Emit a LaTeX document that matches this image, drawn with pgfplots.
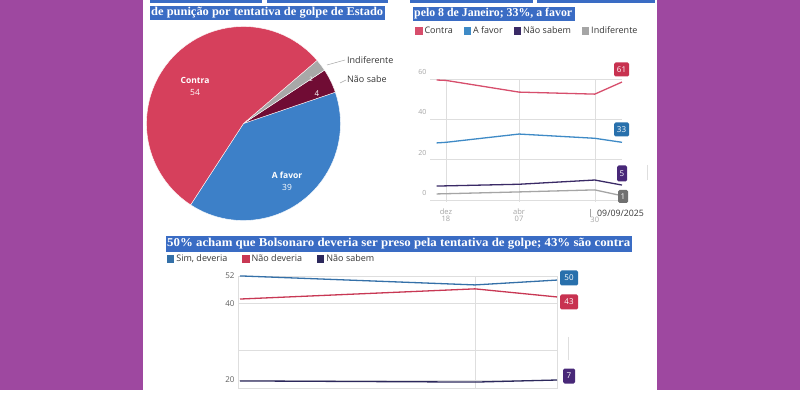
\documentclass[border=0pt]{standalone}
\usepackage{pgfplots}
\pgfplotsset{compat=1.18}
\usepackage{pgfplotstable}
\usepackage{fontspec}
\setmainfont{Open Sans}
\newfontfamily\titlefont{Liberation Serif}
\newcommand{\fs}[1]{\fontsize{#1}{#1}\selectfont}
\definecolor{bgpurple}{RGB}{158,72,160}
\definecolor{hlblue}{RGB}{58,108,196}
\definecolor{piered}{RGB}{214,64,92}
\definecolor{pieblue}{RGB}{61,128,200}
\definecolor{piemaroon}{RGB}{112,12,52}
\definecolor{piegray}{RGB}{168,168,168}
\definecolor{lred}{RGB}{215,78,108}
\definecolor{lblue}{RGB}{62,138,198}
\definecolor{lpurple}{RGB}{58,42,102}
\definecolor{lgray}{RGB}{165,165,165}
\definecolor{bred}{RGB}{200,56,84}
\definecolor{bblue}{RGB}{52,112,168}
\definecolor{bpurple}{RGB}{44,40,92}
\definecolor{boxred}{RGB}{200,50,80}
\definecolor{boxblue}{RGB}{40,112,172}
\definecolor{boxpurple}{RGB}{72,40,120}
\definecolor{boxgray}{RGB}{112,112,112}
\definecolor{gridc}{RGB}{222,222,222}
\definecolor{tickc}{RGB}{165,165,165}
\definecolor{txt}{RGB}{55,55,55}
\pgfplotsset{/pgf/number format/assume math mode=true}

\pgfplotstableread{
day contra afavor naosabem indif
-14 59.5 28.3 6.9 3.0
0   59.3 28.6 7.0 3.1
110 53.5 32.7 7.8 4.0
224 52.5 30.6 9.9 5.0
265 58.5 28.6 7.4 2.1
}\topdata

\pgfplotstableread{
x sim nao naosabem
0   52.0 42.0 6.6
235 48.1 46.4 6.1
317 50.2 42.9 7.0
}\botdata

\begin{document}
\begin{tikzpicture}[x=1pt,y=1pt]
\fill[bgpurple] (0,0) rectangle (800,390);
\fill[white] (143,0) rectangle (657,390);
% cut-off highlighted lines at top
\fill[hlblue] (150,387) rectangle (262,390);
\fill[hlblue] (267,387) rectangle (388,390);
\fill[hlblue] (410,387) rectangle (533,390);
\fill[hlblue] (537,387) rectangle (655,390);
% titles
\fill[hlblue] (150,370) rectangle (385,384);
\node[anchor=west, text=white, font=\titlefont\bfseries\fs{12}, inner sep=0pt] at (151,377) {\resizebox{232pt}{\height}{de punição por tentativa de golpe de Estado}};
\fill[hlblue] (413,369) rectangle (575,383);
\node[anchor=west, text=white, font=\titlefont\bfseries\fs{12}, inner sep=0pt] at (414,376) {\resizebox{158pt}{\height}{pelo 8 de Janeiro; 33\%, a favor}};
\fill[hlblue] (166,138) rectangle (632,154);
\node[anchor=west, text=white, font=\titlefont\bfseries\fs{12}, inner sep=0pt] at (167,146) {\resizebox{463pt}{\height}{50\% acham que Bolsonaro deveria ser preso pela tentativa de golpe; 43\% são contra}};

% ---------- pie ----------
\pgfmathsetmacro{\aA}{237}
\pgfmathsetmacro{\aB}{\aA+39/99*360}
\pgfmathsetmacro{\aC}{\aB+4/99*360}
\pgfmathsetmacro{\aD}{\aC+2/99*360}
\pgfmathsetmacro{\aE}{\aD+54/99*360}
\begin{axis}[at={(146.5pt,169.5pt)}, anchor=south west, scale only axis,
  width=194pt, height=194pt, xmin=-1, xmax=1, ymin=-1, ymax=1, hide axis, clip=false]
\fill[pieblue, draw=white, line width=0.4pt] (axis cs:0,0) -- ++(\aA:97pt) arc[start angle=\aA, end angle=\aB, radius=97pt] -- cycle;
\fill[piemaroon, draw=white, line width=0.4pt] (axis cs:0,0) -- ++(\aB:97pt) arc[start angle=\aB, end angle=\aC, radius=97pt] -- cycle;
\fill[piegray, draw=white, line width=0.4pt] (axis cs:0,0) -- ++(\aC:97pt) arc[start angle=\aC, end angle=\aD, radius=97pt] -- cycle;
\fill[piered, draw=white, line width=0.4pt] (axis cs:0,0) -- ++(\aD:97pt) arc[start angle=\aD, end angle=\aE, radius=97pt] -- cycle;
\end{axis}
\node[text=white, font=\bfseries\fs{8.5}] at (195,310) {Contra};
\node[text=white, font=\fs{8.5}] at (195,298) {54};
\node[text=white, font=\bfseries\fs{8.5}] at (287,215) {A favor};
\node[text=white, font=\fs{8.5}] at (287,203) {39};
\node[text=white, font=\fs{8}] at (317,296) {4};
\node[text=white, font=\fs{6}] at (311,311) {2};
\draw[gray!70, line width=0.5pt] (327,325) -- (345,330);
\node[anchor=west, text=txt, font=\fs{9}, inner sep=1pt] at (346,330) {Indiferente};
\draw[gray!70, line width=0.5pt] (340,307) -- (346,310);
\node[anchor=west, text=txt, font=\fs{9}, inner sep=1pt] at (346,311) {Não sabe};

% ---------- top-right line chart ----------
\begin{axis}[at={(430pt,188pt)}, anchor=south west, scale only axis,
  width=192pt, height=123pt, xmin=-24, xmax=265, ymin=-1, ymax=60,
  axis line style={draw=none}, tick style={draw=none},
  xtick={0,110,224}, xticklabels={{dez\\18},{abr\\07},{\strut\\30}},
  xticklabel style={align=center, font=\fs{7.5}, text=tickc, yshift=-3pt},
  ytick={0,20,40,60},
  yticklabel style={font=\fs{7}, text=tickc, yshift=7pt},
  grid=major, grid style={gridc, line width=0.5pt},
  clip=false,
  legend style={at={(-0.078,1.39)}, anchor=west, draw=none, fill=none,
    legend columns=4, font=\fs{9}, text=txt, inner sep=0pt,
    /tikz/every even column/.append style={column sep=9pt}},
  legend image code/.code={\fill (0pt,-3pt) rectangle (6pt,3pt);},
]
\addplot[color=lred, line width=1.3pt] table[x=day, y=contra] {\topdata};
\addlegendentry{Contra}
\addplot[color=lblue, line width=1.3pt] table[x=day, y=afavor] {\topdata};
\addlegendentry{A favor}
\addplot[color=lpurple, line width=1.3pt] table[x=day, y=naosabem] {\topdata};
\addlegendentry{Não sabem}
\addplot[color=lgray, line width=1.3pt] table[x=day, y=indif] {\topdata};
\addlegendentry{Indiferente}
\end{axis}
\draw[tickc, line width=0.6pt] (590,181) -- (590,173);
\node[text=txt, font=\fs{8.8}, inner sep=1pt, anchor=west] at (596,177) {09/09/2025};
\node[fill=boxred, text=white, font=\fs{8}, rounded corners=1.5pt, minimum width=15pt, minimum height=14pt, inner sep=0pt] at (621.5,320.5) {61};
\node[fill=boxblue, text=white, font=\fs{8}, rounded corners=1.5pt, minimum width=15pt, minimum height=14pt, inner sep=0pt] at (621.5,260.5) {33};
\node[fill=boxpurple, text=white, font=\fs{8}, rounded corners=1.5pt, minimum width=10pt, minimum height=16pt, inner sep=0pt] at (622,216.5) {5};
\node[fill=boxgray, text=white, font=\fs{8}, rounded corners=1.5pt, minimum width=10pt, minimum height=13pt, inner sep=0pt] at (623,193.5) {1};
\draw[gridc, line width=0.6pt] (647,225) -- (647,210);

% ---------- bottom line chart ----------
\begin{axis}[at={(238pt,1.9pt)}, anchor=south west, scale only axis,
  width=319pt, height=112.2pt, xmin=-2, xmax=317, ymin=3.5, ymax=52,
  axis line style={draw=gridc}, tick style={draw=none},
  xtick={235}, xticklabels={},
  ytick={7,20,40,52}, yticklabels={20,{},40,52},
  yticklabel style={font=\fs{8}, text=txt!80},
  grid=major, grid style={gridc, line width=0.5pt},
  clip=false,
  legend style={at={(-0.223,1.151)}, anchor=west, draw=none, fill=none,
    legend columns=3, font=\fs{9}, text=txt, inner sep=0pt,
    /tikz/every even column/.append style={column sep=13pt}},
  legend image code/.code={\fill (0pt,-3pt) rectangle (6pt,3pt);},
]
\addplot[color=bblue, line width=1.3pt] table[x=x, y=sim] {\botdata};
\addlegendentry{Sim, deveria}
\addplot[color=bred, line width=1.3pt] table[x=x, y=nao] {\botdata};
\addlegendentry{Não deveria}
\addplot[color=bpurple, line width=1.3pt] table[x=x, y=naosabem] {\botdata};
\addlegendentry{Não sabem}
\end{axis}
\node[fill=boxblue, text=white, font=\fs{8}, rounded corners=1.5pt, minimum width=18pt, minimum height=15pt, inner sep=0pt] at (569,112) {50};
\node[fill=boxred, text=white, font=\fs{8}, rounded corners=1.5pt, minimum width=18pt, minimum height=15pt, inner sep=0pt] at (569,88) {43};
\node[fill=boxpurple, text=white, font=\fs{8}, rounded corners=1.5pt, minimum width=12pt, minimum height=15pt, inner sep=0pt] at (569,14) {7};
\draw[gridc, line width=0.6pt] (568,53) -- (568,30);
\end{tikzpicture}
\end{document}
